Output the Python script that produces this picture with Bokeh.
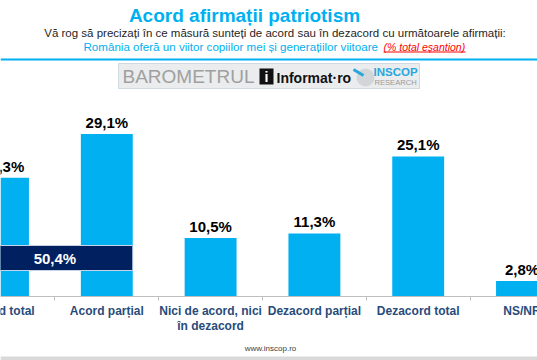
from bokeh.plotting import figure
from bokeh.models import Range1d, FixedTicker, Label, ColumnDataSource, Span, BoxAnnotation
from bokeh.core.properties import value
from bokeh.embed import file_html
from bokeh.resources import INLINE

# ---- data ----
categories = ["Acord total", "Acord parțial", "Nici de acord, nici\nîn dezacord",
              "Dezacord parțial", "Dezacord total", "NS/NR"]
values = [21.3, 29.1, 10.5, 11.3, 25.1, 2.8]
value_labels = ["21,3%", "29,1%", "10,5%", "11,3%", "25,1%", "2,8%"]
total_acord_label = "50,4%"
title_text = "Acord afirmații patriotism"
subtitle_text = "Vă rog să precizați în ce măsură sunteți de acord sau în dezacord cu următoarele afirmații:"
question_text = "România oferă un viitor copiilor mei și generațiilor viitoare"
note_text = "(% total eșantion)"
footer_text = "www.inscop.ro"

# ---- layout geometry (pixels of the page) ----
W, H = 537, 360
CAT_PX = 103.8
PX_PCT = 5.58
AXIS_Y = 296
X0 = 0 - 2.5 / CAT_PX
X1 = X0 + W / CAT_PX

def dx(px):
    return X0 + px / CAT_PX

def dy(py):
    return (AXIS_Y - py) / PX_PCT

FONT = "Liberation Sans"
BLUE = "#00b0f0"

p = figure(width=W, height=H, x_range=Range1d(X0, X1), y_range=Range1d(dy(H), dy(0)),
           output_backend="svg", toolbar_location=None, y_axis_location=None,
           min_border_left=0, min_border_right=0, min_border_top=0, min_border_bottom=0)
p.outline_line_color = None
p.grid.visible = False
p.background_fill_color = "white"
p.border_fill_color = "white"

idx = list(range(len(categories)))
src = ColumnDataSource(dict(x=idx, top=values, lab=value_labels, cat=categories,
                            base=[0] * len(categories)))
p.vbar(x="x", top="top", width=0.5, source=src, fill_color=BLUE, line_color=None)
p.text(x="x", y="top", text="lab", source=src, text_align="center", text_baseline="bottom",
       y_offset=-3, text_font=value(FONT), text_font_style="bold", text_font_size="15px",
       text_color="#000000")

# axis (line + boundary ticks)
ax = p.xaxis[0]
ax.fixed_location = 0
ax.ticker = FixedTicker(ticks=idx, minor_ticks=[i + 0.5 for i in range(-1, len(categories))])
ax.major_label_text_font_size = "0px"
ax.major_label_text_alpha = 0
ax.axis_line_color = "#bfbfbf"
ax.major_tick_in = 0
ax.major_tick_out = 0
ax.minor_tick_in = 0
ax.minor_tick_out = 4
ax.minor_tick_line_color = "#bfbfbf"

# category labels under the axis
p.text(x="x", y="base", text="cat", source=src, text_align="center", text_baseline="top",
       y_offset=7, text_font=value(FONT), text_font_style="bold", text_font_size="12px",
       text_color="#284b7a", text_line_height=1.1)

# total acord box spanning first two bars
bx0 = idx[0] - 0.25
bx1 = idx[1] + 0.25
p.quad(left=[bx0], right=[bx1], bottom=[dy(270)], top=[dy(245)],
       fill_color="#002060", line_color="#c9d3e6", line_width=1)
p.add_layout(Label(x=(idx[0] + idx[1]) / 2, y=dy(258), text=total_acord_label,
                   text_align="center", text_baseline="middle", text_font=FONT,
                   text_font_style="bold", text_font_size="15px", text_color="white"))

# header texts
p.add_layout(Label(x=dx(244), y=dy(15), text=title_text, text_align="center",
                   text_baseline="middle", text_font=FONT, text_font_style="bold",
                   text_font_size="19px", text_color=BLUE))
p.add_layout(Label(x=dx(274.5), y=dy(32), text=subtitle_text, text_align="center",
                   text_baseline="middle", text_font=FONT, text_font_size="11.5px",
                   text_color="#262626"))
p.add_layout(Label(x=dx(83), y=dy(46), text=question_text, text_align="left",
                   text_baseline="middle", text_font=FONT, text_font_size="11.6px",
                   text_color=BLUE))
p.add_layout(Label(x=dx(383), y=dy(46), text=note_text, text_align="left",
                   text_baseline="middle", text_font=FONT, text_font_size="10.5px",
                   text_font_style="italic", text_color="#ff0000"))
p.segment(x0=[dx(383)], x1=[dx(465)], y0=[dy(51.5)], y1=[dy(51.5)], line_color="#ff0000", line_width=1)
p.add_layout(Span(location=dy(59), dimension="width", line_color=BLUE, line_width=2))

# logo strip
p.quad(left=[dx(118)], right=[dx(419)], top=[dy(63)], bottom=[dy(88)],
       fill_color="#eaeced", line_color="#cfd9e0", line_width=1)
p.add_layout(Label(x=dx(122), y=dy(76), text="BAROMETRUL", text_align="left",
                   text_baseline="middle", text_font=FONT, text_font_size="19px",
                   text_color="#a0a0a0"))
p.quad(left=[dx(259)], right=[dx(273)], top=[dy(68)], bottom=[dy(84)],
       fill_color="#111111", line_color=None)
p.add_layout(Label(x=dx(266), y=dy(76), text="i", text_align="center",
                   text_baseline="middle", text_font=FONT, text_font_style="bold",
                   text_font_size="14px", text_color="white"))
p.add_layout(Label(x=dx(276), y=dy(77), text="Informat·ro", text_align="left",
                   text_baseline="middle", text_font=FONT, text_font_style="bold",
                   text_font_size="14px", text_color="#111111"))
p.scatter(x=[dx(365)], y=[dy(77)], size=18, marker="circle", fill_color="#d3d6d9", line_color=None)
p.segment(x0=[dx(353)], x1=[dx(363)], y0=[dy(69)], y1=[dy(75)], line_color="#2aa6de", line_width=3)
p.add_layout(Label(x=dx(373), y=dy(71.5), text="INSCOP", text_align="left",
                   text_baseline="middle", text_font=FONT, text_font_style="bold",
                   text_font_size="11.5px", text_color="#2aa6de"))
p.add_layout(Label(x=dx(374), y=dy(81.5), text="RESEARCH", text_align="left",
                   text_baseline="middle", text_font=FONT, text_font_size="7.6px",
                   text_color="#9a9a9a"))

# footer
p.add_layout(Label(x=dx(270), y=dy(348), text=footer_text, text_align="center",
                   text_baseline="middle", text_font=FONT, text_font_size="8px",
                   text_color="#404040"))
p.add_layout(BoxAnnotation(left=X0, right=X1, bottom=dy(361), top=dy(356),
                           fill_color="#d9d9d9", fill_alpha=1, line_color=None))

open("out.html", "w").write(file_html(p, INLINE))
